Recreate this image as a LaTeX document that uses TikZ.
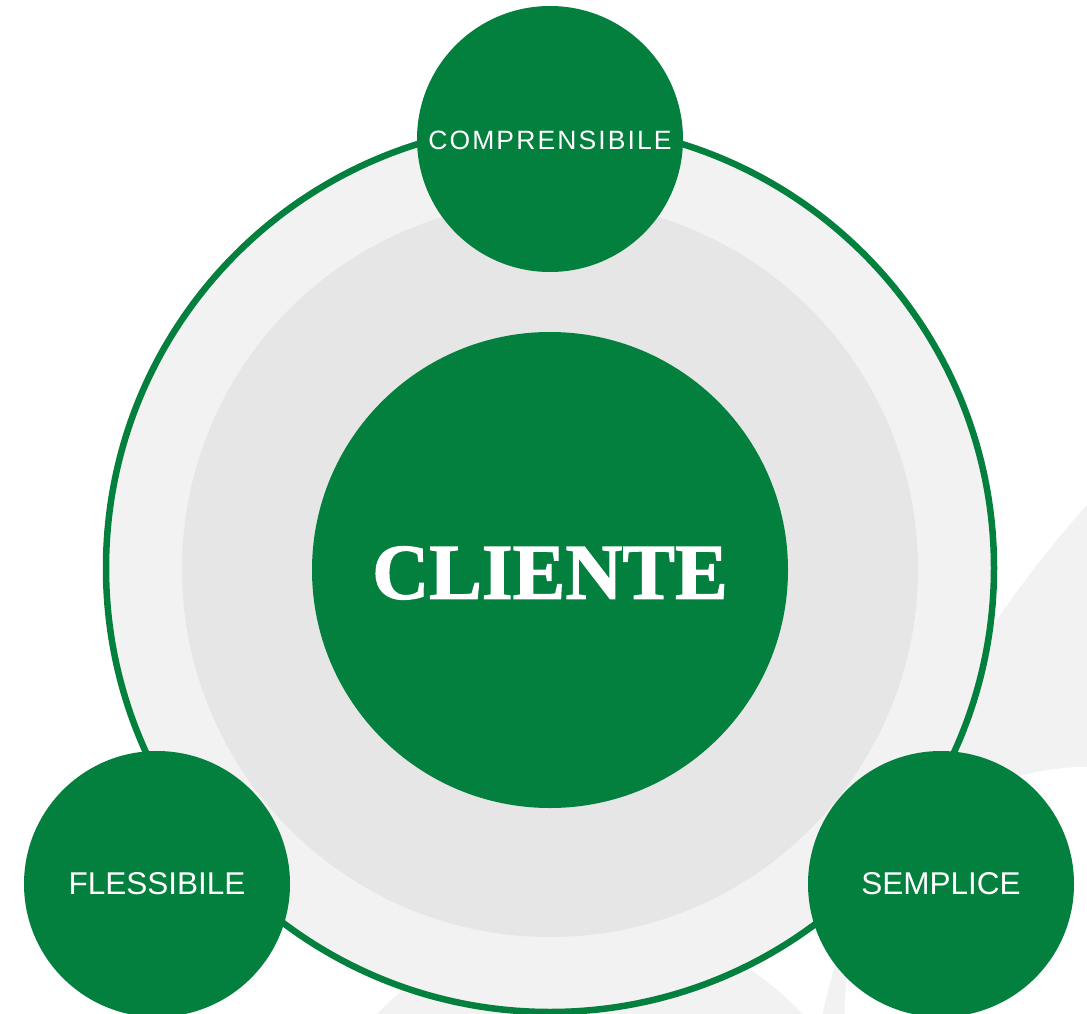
\documentclass[tikz,border=0pt]{standalone}
\usepackage{fontspec}
\setmainfont{Liberation Serif}
\newfontfamily\arialfont{Liberation Sans}
\newfontfamily\arialspaced[LetterSpace=8]{Liberation Sans}
\newfontfamily\clientfont[FakeBold=1.5]{Liberation Serif Bold}
\definecolor{brandgreen}{RGB}{3,128,62}
\definecolor{ringgrey}{HTML}{F2F2F2}
\definecolor{innergrey}{HTML}{E6E6E6}
\begin{document}
\begin{tikzpicture}[x=1pt,y=-1pt,
  satellite/.style={circle, fill=brandgreen, inner sep=0pt, minimum size=266pt,
    text=white, font=\arialfont\fontsize{31.5}{32}\selectfont},
]
\useasboundingbox (0,0) rectangle (1087,1014);
% faint watermark shapes
\begin{scope}
  \clip (0,0) rectangle (1087,1014);
  \fill[ringgrey] (1958,1280) circle[radius=1166];
  \fill[white] (1086,1008) circle[radius=241];
  \fill[ringgrey] (590,1214) circle[radius=292];
\end{scope}
% rings
\node[circle, draw=brandgreen, line width=6.5pt, fill=ringgrey, inner sep=0pt,
  minimum size=888pt] (ring) at (550,568) {};
\node[circle, fill=innergrey, inner sep=0pt, minimum size=736pt] (inner) at (550,569) {};
\node[circle, fill=brandgreen, inner sep=0pt, minimum size=476pt] (client) at (550,570) {};
\node[text=white, font=\clientfont\fontsize{79}{80}\selectfont, inner sep=0pt] (clientlabel) at (550,573) {CLIENTE};
% satellites
\node[satellite] (top) at (550,139) {};
\node[text=white, inner sep=0pt, font=\arialspaced\fontsize{26.5}{27}\selectfont] (toplabel) at (550,140) {COMPRENSIBILE};
\node[satellite] (left) at (157,884) {FLESSIBILE};
\node[satellite] (right) at (941,884) {SEMPLICE};
\end{tikzpicture}
\end{document}
